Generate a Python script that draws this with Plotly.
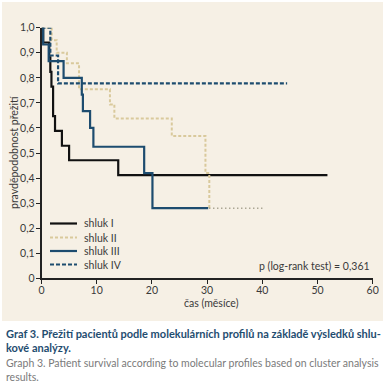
import plotly.graph_objects as go

# ---- data ----
t_I = [0, 0.3, 1.4, 1.6, 1.8, 2.1, 2.45, 3.7, 5.0, 13.9, 51.8]
s_I = [1.0, 0.941, 0.882, 0.824, 0.765, 0.647, 0.588, 0.529, 0.471, 0.412, 0.412]

t_II = [0, 1.85, 2.75, 4.6, 6.8, 12.4, 13.2, 23.6, 29.7, 30.4]
s_II = [1.0, 0.95, 0.90, 0.858, 0.754, 0.694, 0.638, 0.568, 0.42, 0.28]
t_II_tail = [30.4, 40.0]
s_II_tail = [0.28, 0.28]

t_III = [0, 0.3, 1.3, 4.0, 7.3, 7.5, 8.8, 9.4, 18.6, 20.1, 30.2]
s_III = [1.0, 0.933, 0.867, 0.80, 0.733, 0.667, 0.60, 0.525, 0.42, 0.28, 0.28]

t_IV = [0, 1.6, 3.0, 44.5]
s_IV = [1.0, 0.889, 0.778, 0.778]

x_ticks = [0, 10, 20, 30, 40, 50, 60]
x_labels = ["0", "10", "20", "30", "40", "50", "60"]
y_ticks = [0, 0.1, 0.2, 0.3, 0.4, 0.5, 0.6, 0.7, 0.8, 0.9, 1.0]
y_labels = ["0", "0,1", "0,2", "0,3", "0,4", "0,5", "0,6", "0,7", "0,8", "0,9", "1,0"]

names = ["shluk I", "shluk II", "shluk III", "shluk IV"]

W, H = 383, 388
FONT = "Lato"
BEIGE = "#f6f0e5"
C_I = "#111111"
C_II = "#d9c99c"
C_III = "#1d4c6f"
C_IV = "#1d4c6f"
TXT = "#3a3a3a"

def px(x):
    return x / W

def py(y):
    return 1 - y / H

styles = [
    dict(color=C_I, width=2.2),
    dict(color=C_II, width=2, dash="3px,2px"),
    dict(color=C_III, width=2.2),
    dict(color=C_IV, width=2.2, dash="4px,2px"),
]

fig = go.Figure()
fig.add_trace(go.Scatter(x=t_I, y=s_I, mode="lines", line=dict(shape="hv", **styles[0]), name=names[0]))
fig.add_trace(go.Scatter(x=t_II, y=s_II, mode="lines", line=dict(shape="hv", **styles[1]), name=names[1]))
fig.add_trace(go.Scatter(x=t_II_tail, y=s_II_tail, mode="lines", line=dict(color="#8a8570", width=1.5, dash="1px,3px"), name=names[1]))
fig.add_trace(go.Scatter(x=t_III, y=s_III, mode="lines", line=dict(shape="hv", **styles[2]), name=names[2]))
fig.add_trace(go.Scatter(x=t_IV, y=s_IV, mode="lines", line=dict(shape="hv", **styles[3]), name=names[3]))

x0, x1 = 41.5, 372.7
y0, y1 = 278.3, 27.7

shapes = [dict(type="rect", xref="paper", yref="paper", x0=px(2), x1=1.0, y0=py(321), y1=py(2),
               fillcolor=BEIGE, line=dict(width=0), layer="below")]
annotations = []
leg_y = [223.5, 237.5, 251, 264.5]
for nm, st, ly in zip(names, styles, leg_y):
    shapes.append(dict(type="line", xref="paper", yref="paper", x0=px(50), x1=px(77),
                       y0=py(ly), y1=py(ly), line=st))
    annotations.append(dict(text=nm, x=px(82), y=py(ly), xref="paper", yref="paper",
                            xanchor="left", yanchor="middle", showarrow=False,
                            font=dict(size=10.5, color=TXT)))

annotations += [
    dict(text="pravděpodobnost přežití", x=px(14), y=py(153), xref="paper", yref="paper",
         xanchor="center", yanchor="middle",
         textangle=-90, showarrow=False, font=dict(size=10.5, color=TXT)),
    dict(text="čas (měsíce)", x=px(211), y=py(303), xref="paper", yref="paper",
         xanchor="center", yanchor="middle",
         showarrow=False, font=dict(size=10.5, color=TXT)),
    dict(text="p (log-rank test) = 0,361", x=px(257), y=py(266), xref="paper", yref="paper",
         xanchor="left", yanchor="middle", showarrow=False, font=dict(size=10.5, color=TXT)),
    dict(text="<b>Graf 3. Přežití pacientů podle molekulárních profilů na základě výsledků shlu-</b>",
         x=px(4), y=py(333), xref="paper", yref="paper", xanchor="left", yanchor="middle", showarrow=False,
         font=dict(size=11, color="#1f4d70")),
    dict(text="<b>kové analýzy.</b>",
         x=px(4), y=py(347), xref="paper", yref="paper", xanchor="left", yanchor="middle", showarrow=False,
         font=dict(size=11, color="#1f4d70")),
    dict(text="Graph 3. Patient survival according to molecular profiles based on cluster analysis",
         x=px(4), y=py(363), xref="paper", yref="paper", xanchor="left", yanchor="middle", showarrow=False,
         font=dict(size=10.5, color="#7a7a7a")),
    dict(text="results.",
         x=px(4), y=py(377), xref="paper", yref="paper", xanchor="left", yanchor="middle", showarrow=False,
         font=dict(size=10.5, color="#7a7a7a")),
]

fig.update_layout(
    width=W, height=H, autosize=False,
    margin=dict(l=0, r=0, t=0, b=0),
    paper_bgcolor="white",
    plot_bgcolor="rgba(0,0,0,0)",
    showlegend=False,
    font=dict(family=FONT, size=10, color="#333333"),
    xaxis=dict(domain=[px(x0), px(x1)], range=[0, 60], showgrid=False, zeroline=False,
               showline=True, linecolor="#222222", linewidth=1.5, automargin=False,
               ticks="outside", ticklen=4, tickcolor="#222222", tickwidth=1.2,
               ticklabelstandoff=-3,
               tickvals=x_ticks, ticktext=x_labels, tickfont=dict(size=10.5, color=TXT)),
    yaxis=dict(domain=[py(y0), py(y1)], range=[0, 1.0], showgrid=False, zeroline=False,
               showline=True, linecolor="#222222", linewidth=1.5, automargin=False,
               ticks="outside", ticklen=4, tickcolor="#222222", tickwidth=1.2,
               ticklabelstandoff=-1,
               tickvals=y_ticks, ticktext=y_labels, tickfont=dict(size=10.5, color=TXT)),
    shapes=shapes,
    annotations=annotations,
)

fig.write_html("out.html", config={"displayModeBar": False},
               post_script="document.body.style.margin='0';")
